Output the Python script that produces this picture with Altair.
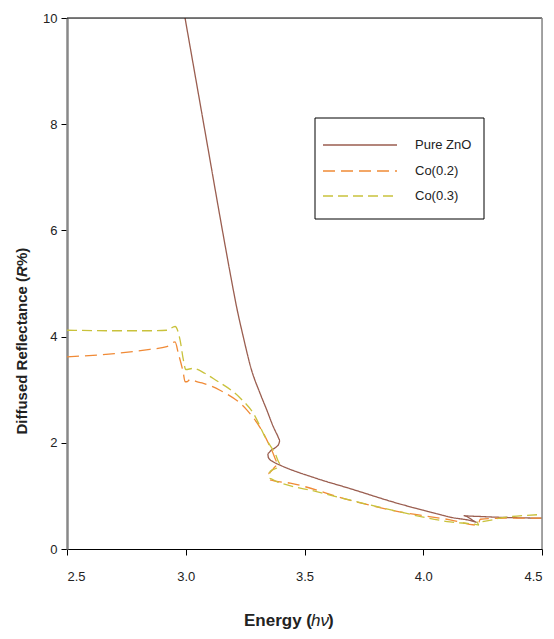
import altair as alt
import pandas as pd

# ---------------- data ----------------
series_names = ["Pure ZnO", "Co(0.2)", "Co(0.3)"]
series_colors = ["#9A5E50", "#F08A36", "#C9C23C"]
series_dashes = [[1, 0], [12, 6], [10, 5]]

pure_E = [2.997, 3.095, 3.144, 3.191, 3.214, 3.242, 3.277, 3.313, 3.341, 3.369,
          3.385, 3.397, 3.392, 3.383, 3.36, 3.345, 3.348, 3.369, 3.397, 3.55,
          3.69, 3.9, 4.0, 4.113, 4.225, 4.17, 4.25, 4.5]
pure_R = [10.0, 7.51, 6.26, 5.10, 4.56, 4.00, 3.37, 2.93, 2.62, 2.30,
          2.15, 2.05, 1.98, 1.93, 1.86, 1.80, 1.72, 1.64, 1.58, 1.33,
          1.14, 0.85, 0.73, 0.60, 0.50, 0.63, 0.61, 0.58]

co2_E = [2.5, 2.7, 2.849, 2.92, 2.955, 2.969, 2.99, 2.997, 3.004, 3.018,
         3.025, 3.046, 3.074, 3.144, 3.257, 3.327, 3.362, 3.39, 3.376, 3.348,
         3.355, 3.44, 3.69, 3.9, 4.113, 4.23, 4.24, 4.35, 4.5]
co2_R = [3.62, 3.68, 3.76, 3.81, 3.90, 3.68, 3.31, 3.15, 3.15, 3.19,
         3.19, 3.15, 3.12, 2.99, 2.62, 2.18, 1.86, 1.61, 1.55, 1.43,
         1.30, 1.24, 0.92, 0.70, 0.55, 0.45, 0.56, 0.58, 0.58]

co3_E = [2.5, 2.7, 2.849, 2.92, 2.955, 2.976, 2.99, 3.0, 3.03, 3.08,
         3.116, 3.23, 3.284, 3.341, 3.376, 3.397, 3.39, 3.355, 3.352, 3.383,
         3.551, 3.832, 4.113, 4.235, 4.225, 4.35, 4.5]
co3_R = [4.12, 4.11, 4.11, 4.12, 4.19, 3.94, 3.56, 3.38, 3.40, 3.31,
         3.21, 2.84, 2.56, 2.05, 1.80, 1.61, 1.55, 1.46, 1.33, 1.27,
         1.08, 0.77, 0.51, 0.45, 0.51, 0.60, 0.65]

x_ticks = [2.5, 3.0, 3.5, 4.0, 4.5]
y_ticks = [0, 2, 4, 6, 8, 10]

# ---------------- build table ----------------
rows = []
for name, E, R in [("Pure ZnO", pure_E, pure_R), ("Co(0.2)", co2_E, co2_R), ("Co(0.3)", co3_E, co3_R)]:
    for i, (e, r) in enumerate(zip(E, R)):
        rows.append({"series": name, "E": e, "R": r, "i": i})
df = pd.DataFrame(rows)

W, H = 475, 531
FONT = "Liberation Sans"

lines = alt.Chart(df).mark_line(strokeWidth=1.3, clip=True, interpolate="monotone").encode(
    x=alt.X("E:Q", scale=alt.Scale(domain=[2.5, 4.5], nice=False, zero=False),
            axis=alt.Axis(values=x_ticks, format=".1f", title=None, grid=False,
                          domainColor="black", domainWidth=1.2, tickColor="black",
                          tickSize=6, labelPadding=15, labelFontSize=13,
                          labelFont=FONT, labelColor="#222")),
    y=alt.Y("R:Q", scale=alt.Scale(domain=[0, 10], nice=False),
            axis=alt.Axis(values=y_ticks, format="d", title=None, grid=False,
                          domainColor="#888", domainWidth=2.5, tickColor="black",
                          tickSize=6, labelPadding=4, labelFontSize=13,
                          labelFont=FONT, labelColor="#222")),
    color=alt.Color("series:N", scale=alt.Scale(domain=series_names, range=series_colors),
                    legend=None),
    strokeDash=alt.StrokeDash("series:N",
                              scale=alt.Scale(domain=series_names, range=series_dashes),
                              legend=None),
    order=alt.Order("i:Q"),
)

one = pd.DataFrame({"k": [0]})
top_rule = alt.Chart(one).mark_rule(color="black", strokeWidth=1.2).encode(
    x=alt.value(0), x2=alt.value(W), y=alt.value(0))
right_rule = alt.Chart(one).mark_rule(color="#888", strokeWidth=1.5).encode(
    x=alt.value(W), y=alt.value(0), y2=alt.value(H))

# ---------------- manual legend ----------------
legend_layers = [
    alt.Chart(one).mark_rect(fill="white", stroke="black", strokeWidth=1).encode(
        x=alt.value(248), x2=alt.value(417), y=alt.value(100), y2=alt.value(201))
]
row_y = [127, 153, 178]
for name, col, dash, ry in zip(series_names, series_colors, series_dashes, row_y):
    legend_layers.append(
        alt.Chart(one).mark_rule(color=col, strokeWidth=1.5, strokeDash=dash).encode(
            x=alt.value(256), x2=alt.value(330), y=alt.value(ry)))
    legend_layers.append(
        alt.Chart(pd.DataFrame({"t": [name]})).mark_text(
            align="left", baseline="middle", font=FONT, fontSize=13, color="#222").encode(
            text="t:N", x=alt.value(348), y=alt.value(ry)))

# y title with italic R
c_y = 253.5
yt1 = alt.Chart(pd.DataFrame({"t": ["Diffused Reflectance ("]})).mark_text(
    angle=270, align="right", baseline="middle", font=FONT, fontSize=15,
    fontWeight="bold", color="#222").encode(text="t:N", x=alt.value(-45), y=alt.value(c_y + 5.5))
yt2 = alt.Chart(pd.DataFrame({"t": ["R"]})).mark_text(
    angle=270, align="center", baseline="middle", font=FONT, fontSize=15,
    fontWeight="bold", fontStyle="italic", color="#222").encode(text="t:N", x=alt.value(-45), y=alt.value(c_y))
yt3 = alt.Chart(pd.DataFrame({"t": ["%)"]})).mark_text(
    angle=270, align="left", baseline="middle", font=FONT, fontSize=15,
    fontWeight="bold", color="#222").encode(text="t:N", x=alt.value(-45), y=alt.value(c_y - 5.5))

# x title with italic h-nu
XF = "Liberation Sans Narrow, Liberation Sans"
c_x = 253
ty = 603
xt1 = alt.Chart(pd.DataFrame({"t": ["Energy ("]})).mark_text(
    align="right", baseline="middle", font=XF, fontSize=17, fontWeight="bold",
    color="#222").encode(text="t:N", x=alt.value(c_x - 8), y=alt.value(ty))
xt2 = alt.Chart(pd.DataFrame({"t": ["hν"]})).mark_text(
    align="center", baseline="middle", font=XF, fontSize=17, fontStyle="italic",
    color="#222").encode(text="t:N", x=alt.value(c_x), y=alt.value(ty))
xt3 = alt.Chart(pd.DataFrame({"t": [")"]})).mark_text(
    align="left", baseline="middle", font=XF, fontSize=17, fontWeight="bold",
    color="#222").encode(text="t:N", x=alt.value(c_x + 8), y=alt.value(ty))

chart = alt.layer(lines, top_rule, right_rule, *legend_layers, yt1, yt2, yt3, xt1, xt2, xt3).properties(
    width=W, height=H,
    autosize=alt.AutoSizeParams(type="none"),
    padding={"left": 59, "top": 10, "right": 4, "bottom": 82},
).configure_view(stroke=None).configure(background="white")

chart.save("out.html", embed_options={"renderer": "svg", "actions": False})
